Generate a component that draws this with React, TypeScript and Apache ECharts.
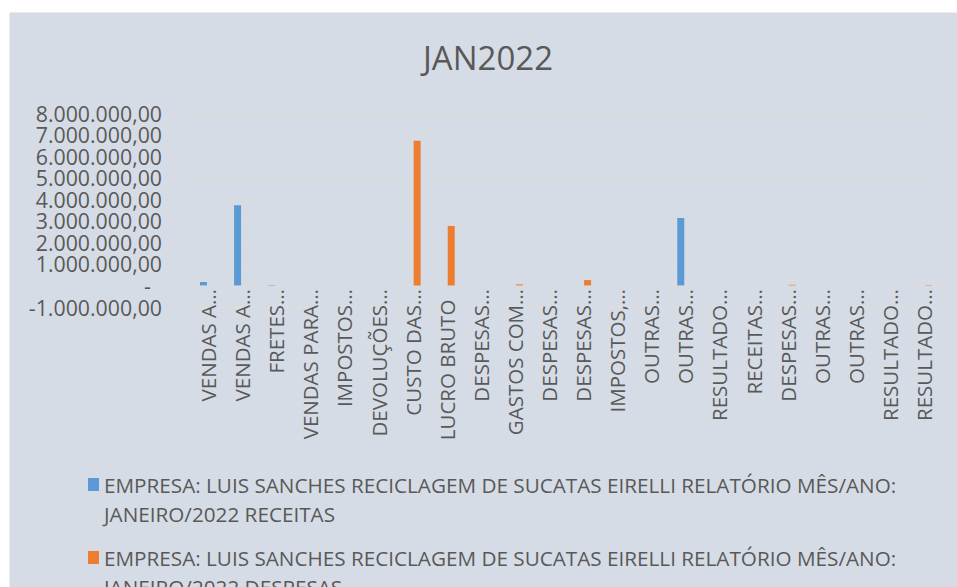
import React, { useEffect, useRef } from "react";
import * as echarts from "echarts";

const TITLE = "JAN2022";
const CATEGORIES = [
  "VENDAS A…",
  "VENDAS A…",
  "FRETES…",
  "VENDAS PARA…",
  "IMPOSTOS…",
  "DEVOLUÇÕES…",
  "CUSTO DAS…",
  "LUCRO BRUTO\u00a0\u00a0",
  "DESPESAS…",
  "GASTOS COM…",
  "DESPESAS…",
  "DESPESAS…",
  "IMPOSTOS,…",
  "OUTRAS…",
  "OUTRAS…",
  "RESULTADO…",
  "RECEITAS…",
  "DESPESAS…",
  "OUTRAS…",
  "OUTRAS…",
  "RESULTADO…",
  "RESULTADO…",
];
const RECEITAS = [160000, 3720000, 20000, null, null, null, null, null, null, null, null, null, null, null, 3130000, null, null, null, null, null, null, null];
const DESPESAS = [null, null, null, null, null, null, 6710000, 2760000, null, 50000, null, 250000, null, null, null, null, null, 30000, null, null, null, 20000];
const SERIES_NAMES = [
  "EMPRESA: LUIS SANCHES RECICLAGEM DE SUCATAS EIRELLI RELATÓRIO MÊS/ANO: JANEIRO/2022 RECEITAS",
  "EMPRESA: LUIS SANCHES RECICLAGEM DE SUCATAS EIRELLI RELATÓRIO MÊS/ANO: JANEIRO/2022 DESPESAS",
];
const Y_MIN = -1000000;
const Y_MAX = 8000000;
const Y_STEP = 1000000;

const BLUE = "#5B9BD5";
const ORANGE = "#ED7D31";
const TEXT = "#595959";
const GRID = "#E0DDD8";
const FONT = "'Open Sans', sans-serif";

function fmtBR(v: number): string {
  if (v === 0) return "-\u00a0\u00a0";
  const neg = v < 0;
  const s = Math.abs(v).toFixed(0).replace(/\B(?=(\d{3})+(?!\d))/g, ".");
  return (neg ? "-" : "") + s + ",00";
}

function legendText(name: string): string {
  return "\n" + name.replace("MÊS/ANO: ", "MÊS/ANO:\n");
}

export default function App() {
  const ref = useRef<HTMLDivElement>(null);
  useEffect(() => {
    if (!ref.current) return;
    const chart = echarts.init(ref.current, undefined, { renderer: "svg" });
    const legendBase = {
      orient: "vertical" as const,
      left: 83,
      icon: "rect",
      itemWidth: 11,
      itemHeight: 13,
      itemGap: 0,
      formatter: legendText,
      textStyle: {
        color: TEXT,
        fontFamily: FONT,
        fontSize: 20.7,
        lineHeight: 29,
      },
    };
    chart.setOption({
      animation: false,
      backgroundColor: "#FFFFFF",
      graphic: [
        {
          type: "rect",
          z: -10,
          silent: true,
          shape: { x: 10, y: 13, width: 960, height: 600 },
          style: { fill: "#D6DCE5", stroke: "#D9D9D9", lineWidth: 1 },
        },
      ],
      title: {
        text: TITLE,
        left: 423,
        top: 41,
        padding: 0,
        textStyle: { color: TEXT, fontFamily: FONT, fontSize: 33, fontWeight: "normal" },
      },
      legend: [
        { ...legendBase, top: 436, data: [SERIES_NAMES[0]] },
        { ...legendBase, top: 509, data: [SERIES_NAMES[1]] },
      ],
      grid: { left: 191, right: 16, top: 113, bottom: 280, containLabel: false },
      xAxis: {
        type: "category",
        data: CATEGORIES,
        axisLine: { show: false, onZero: false },
        axisTick: { show: false },
        axisLabel: {
          rotate: 90,
          interval: 0,
          margin: -18,
          color: TEXT,
          fontFamily: FONT,
          fontSize: 20.5,
        },
      },
      yAxis: {
        type: "value",
        min: Y_MIN,
        max: Y_MAX,
        interval: Y_STEP,
        axisLine: { show: false },
        axisTick: { show: false },
        splitLine: { lineStyle: { color: GRID, width: 1 } },
        axisLabel: {
          margin: 29,
          color: TEXT,
          fontFamily: FONT,
          fontSize: 21.3,
          showMinLabel: true,
          showMaxLabel: true,
          hideOverlap: false,
          formatter: fmtBR,
        },
      },
      series: [
        {
          name: SERIES_NAMES[0],
          type: "bar",
          data: RECEITAS,
          barWidth: 7,
          barGap: "30%",
          itemStyle: { color: BLUE },
        },
        {
          name: SERIES_NAMES[1],
          type: "bar",
          data: DESPESAS,
          barWidth: 7,
          barGap: "30%",
          itemStyle: { color: ORANGE },
        },
      ],
    });
    return () => chart.dispose();
  }, []);
  return (
    <div
      ref={ref}
      style={{ position: "fixed", left: 0, top: 0, width: 957, height: 587 }}
    />
  );
}
